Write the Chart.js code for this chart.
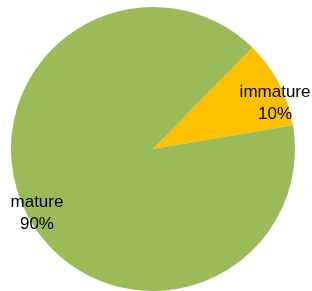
<!DOCTYPE html>
<html>
<head>
<meta charset="utf-8">
<script src="https://cdn.jsdelivr.net/npm/chart.js@4.4.0/dist/chart.umd.min.js"></script>
<style>
  html, body { margin: 0; padding: 0; background: #ffffff; }
  body { width: 312px; height: 291px; position: relative; overflow: hidden; }
  #wrap { position: absolute; left: 0; top: 0; width: 312px; height: 291px; }
</style>
</head>
<body>
<div id="wrap"><canvas id="pieChart"></canvas></div>
<script>
const categories = ["immature", "mature"];
const percentValues = [10, 90];
const sliceColors = ["#FFC000", "#9BBB59"];

// label nudges relative to the slice midpoint (px)
const labelOffsets = [[5, 15], [1, 3]];

const sliceLabels = {
  id: "sliceLabels",
  afterDatasetsDraw(chart) {
    const ctx = chart.ctx;
    const meta = chart.getDatasetMeta(0);
    ctx.save();
    ctx.font = "17px 'Liberation Sans', Arial, sans-serif";
    ctx.fillStyle = "#000000";
    ctx.textAlign = "center";
    ctx.textBaseline = "middle";
    meta.data.forEach((arc, i) => {
      const { x, y, startAngle, endAngle, outerRadius } = arc.getProps(["x", "y", "startAngle", "endAngle", "outerRadius"], true);
      const mid = (startAngle + endAngle) / 2;
      const r = outerRadius * 0.93;
      const lx = x + Math.cos(mid) * r + labelOffsets[i][0];
      const ly = y + Math.sin(mid) * r + labelOffsets[i][1];
      ctx.fillText(categories[i], lx, ly - 11);
      ctx.fillText(percentValues[i] + "%", lx, ly + 11);
    });
    ctx.restore();
  }
};

new Chart(document.getElementById("pieChart"), {
  type: "pie",
  data: {
    labels: categories,
    datasets: [
      {
        data: percentValues,
        backgroundColor: sliceColors,
        borderWidth: 0,
      },
    ],
  },
  options: {
    responsive: true,
    maintainAspectRatio: false,
    animation: false,
    rotation: 44.4,
    layout: { padding: { left: 10, right: 16, top: 7, bottom: -2 } },
    plugins: {
      legend: { display: false },
      tooltip: { enabled: false },
    },
  },
  plugins: [sliceLabels],
});
</script>
</body>
</html>
